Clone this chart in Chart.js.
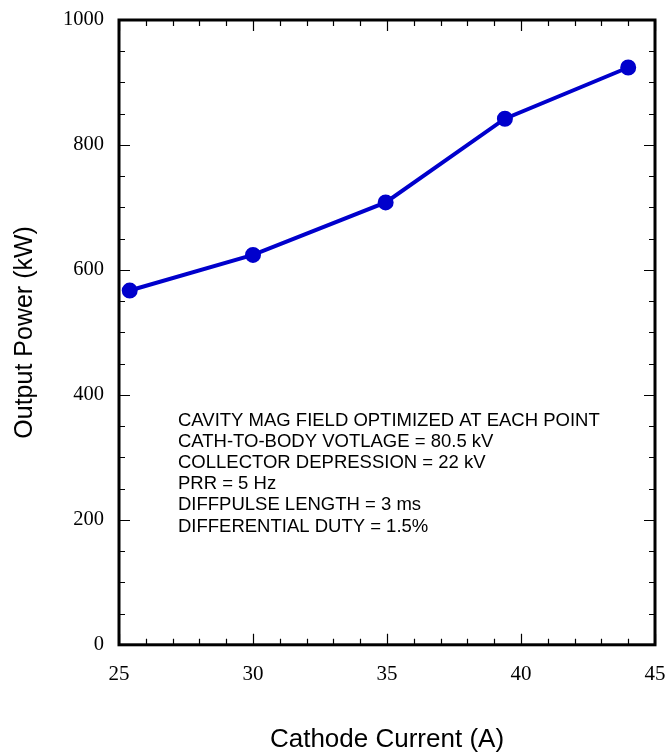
<!DOCTYPE html>
<html>
<head>
<meta charset="utf-8">
<script src="https://cdn.jsdelivr.net/npm/chart.js@4.4.1/dist/chart.umd.min.js"></script>
<style>
  html, body { margin: 0; padding: 0; background: #fff; overflow: hidden; }
  #wrap { width: 668px; height: 753px; }
  canvas { display: block; }
</style>
</head>
<body>
<div id="wrap"><canvas id="power"></canvas></div>
<script>
// values
var cathodeCurrent = [25.4, 30.0, 34.95, 39.4, 44.0];
var outputPower = [567, 624, 708, 842, 924];
var notes = [
  "CAVITY MAG FIELD OPTIMIZED AT EACH POINT",
  "CATH-TO-BODY VOTLAGE = 80.5 kV",
  "COLLECTOR DEPRESSION = 22 kV",
  "PRR = 5 Hz",
  "DIFFPULSE LENGTH = 3 ms",
  "DIFFERENTIAL DUTY = 1.5%"
];

// frame with inward ticks on all four sides
var frameTicks = {
  id: "frameTicks",
  afterDraw: function (chart) {
    var c = chart.ctx, a = chart.chartArea;
    var xs = chart.scales.x, ys = chart.scales.y;
    c.save();
    c.strokeStyle = "#000";
    c.lineWidth = 1.2;
    c.beginPath();
    for (var v = 25; v <= 45; v += 1) {
      var px = Math.round(xs.getPixelForValue(v)) + 0.5;
      var len = v % 5 === 0 ? 11 : 6;
      c.moveTo(px, a.bottom); c.lineTo(px, a.bottom - len);
      c.moveTo(px, a.top); c.lineTo(px, a.top + len);
    }
    for (var w = 0; w <= 1000; w += 50) {
      var py = Math.round(ys.getPixelForValue(w)) + 0.5;
      var l2 = w % 200 === 0 ? 11 : 6;
      c.moveTo(a.left, py); c.lineTo(a.left + l2, py);
      c.moveTo(a.right, py); c.lineTo(a.right - l2, py);
    }
    c.stroke();
    c.lineWidth = 3;
    c.strokeRect(a.left, a.top, a.right - a.left, a.bottom - a.top);

    // notes block
    c.fillStyle = "#000";
    c.font = "18.5px 'Liberation Sans', Arial, sans-serif";
    c.textBaseline = "middle";
    var tx = xs.getPixelForValue(27.2);
    var ty = ys.getPixelForValue(359);
    for (var i = 0; i < notes.length; i++) {
      c.fillText(notes[i], tx, ty + i * 21.2);
    }
    c.restore();
  }
};

var ctx = document.getElementById("power").getContext("2d");
var myChart = new Chart(ctx, {
  type: "scatter",
  data: {
    datasets: [
      {
        label: "Output Power",
        data: cathodeCurrent.map(function (x, i) { return { x: x, y: outputPower[i] }; }),
        showLine: true,
        borderColor: "#0000cc",
        backgroundColor: "#0000cc",
        borderWidth: 4,
        pointRadius: 6,
        pointHoverRadius: 6,
      },
    ],
  },
  options: {
    responsive: true,
    maintainAspectRatio: false,
    animation: false,
    layout: { padding: { top: 0, right: 0, left: 10, bottom: 0 } },
    plugins: { legend: { display: false }, tooltip: { enabled: false } },
    scales: {
      x: {
        type: "linear",
        min: 25,
        max: 45,
        grid: { display: false, drawTicks: false },
        border: { display: false },
        afterFit: function (axis) { axis.paddingRight = 13; },
        ticks: {
          stepSize: 5,
          padding: 17,
          color: "#000",
          font: { family: "'Liberation Serif', 'Times New Roman', serif", size: 21 },
        },
        title: {
          display: true,
          text: "Cathode Current (A)",
          color: "#000",
          padding: { top: 23, bottom: 0 },
          font: { family: "'Liberation Sans', Arial, sans-serif", size: 26, lineHeight: 1.0 },
        },
      },
      y: {
        min: 0,
        max: 1000,
        grid: { display: false, drawTicks: false },
        border: { display: false },
        afterFit: function (axis) { axis.paddingTop = 20; },
        ticks: {
          stepSize: 200,
          padding: 15,
          color: "#000",
          callback: function (v) { return String(v); },
          font: { family: "'Liberation Serif', 'Times New Roman', serif", size: 20.5 },
        },
        title: {
          display: true,
          text: "Output Power (kW)",
          color: "#000",
          padding: { top: 0, bottom: 8 },
          font: { family: "'Liberation Sans', Arial, sans-serif", size: 25 },
        },
      },
    },
  },
  plugins: [frameTicks],
});
</script>
</body>
</html>
